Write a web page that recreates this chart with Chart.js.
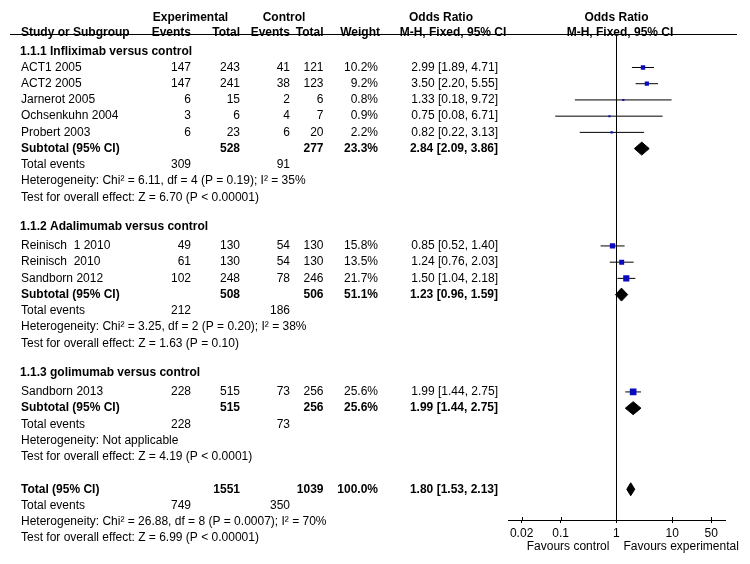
<!DOCTYPE html>
<html>
<head>
<meta charset="utf-8">
<script src="https://cdn.jsdelivr.net/npm/chart.js@4.4.1/dist/chart.umd.min.js"></script>
<style>
html,body{margin:0;padding:0;background:#fff}
canvas{display:block}
</style>
</head>
<body>
<canvas id="forest" width="750" height="564"></canvas>
<script>
// study level data
const studies     = ['ACT1 2005','ACT2 2005','Jarnerot 2005','Ochsenkuhn 2004','Probert 2003','Reinisch  1 2010','Reinisch  2010','Sandborn 2012','Sandborn 2013'];
const studyGroup  = [0,0,0,0,0,1,1,1,2];
const expEvents   = [147,147,6,3,6,49,61,102,228];
const expTotal    = [243,241,15,6,23,130,130,248,515];
const ctrlEvents  = [41,38,2,4,6,54,54,78,73];
const ctrlTotal   = [121,123,6,7,20,130,130,246,256];
const weights     = [10.2,9.2,0.8,0.9,2.2,15.8,13.5,21.7,25.6];
const orEst       = [2.99,3.50,1.33,0.75,0.82,0.85,1.24,1.50,1.99];
const orLo        = [1.89,2.20,0.18,0.08,0.22,0.52,0.76,1.04,1.44];
const orHi        = [4.71,5.55,9.72,6.71,3.13,1.40,2.03,2.18,2.75];

// subgroups
const groupNames    = ['1.1.1 Infliximab versus control','1.1.2 Adalimumab versus control','1.1.3 golimumab versus control'];
const subExpTotal   = [528,508,515];
const subCtrlTotal  = [277,506,256];
const subWeight     = ['23.3%','51.1%','25.6%'];
const subExpEvents  = [309,212,228];
const subCtrlEvents = [91,186,73];
const subEst        = [2.84,1.23,1.99];
const subLo         = [2.09,0.96,1.44];
const subHi         = [3.86,1.59,2.75];
const subHet  = ['Heterogeneity: Chi² = 6.11, df = 4 (P = 0.19); I² = 35%','Heterogeneity: Chi² = 3.25, df = 2 (P = 0.20); I² = 38%','Heterogeneity: Not applicable'];
const subTest = ['Test for overall effect: Z = 6.70 (P < 0.00001)','Test for overall effect: Z = 1.63 (P = 0.10)','Test for overall effect: Z = 4.19 (P < 0.0001)'];

// overall
const totExpTotal = 1551, totCtrlTotal = 1039, totWeight = '100.0%';
const totExpEvents = 749, totCtrlEvents = 350;
const totEst = 1.80, totLo = 1.53, totHi = 2.13;
const totHet  = 'Heterogeneity: Chi² = 26.88, df = 8 (P = 0.0007); I² = 70%';
const totTest = 'Test for overall effect: Z = 6.99 (P < 0.00001)';

// axis
const xTicks = [0.02,0.1,1,10,50];

const fmt = v => v.toFixed(2);
const ciText = (e,l,h) => `${fmt(e)} [${fmt(l)}, ${fmt(h)}]`;

// row layout: one row index per line of the table
const rows = [];
let r = 0;
const studyRow = [], subRow = [];
groupNames.forEach((g,gi)=>{
  rows.push({r:r - (gi?0.2:0), kind:'group', gi}); r++;
  studies.forEach((s,i)=>{ if(studyGroup[i]===gi){ studyRow[i]=r; rows.push({r:r++, kind:'study', i}); } });
  subRow[gi]=r; rows.push({r:r++, kind:'sub', gi});
  rows.push({r:r++, kind:'events', e:subExpEvents[gi], c:subCtrlEvents[gi]});
  rows.push({r:r++, kind:'note', t:subHet[gi]});
  rows.push({r:r++, kind:'note', t:subTest[gi]});
  r++;
});
const totRow = r;
rows.push({r:r++, kind:'total'});
rows.push({r:r++, kind:'events', e:totExpEvents, c:totCtrlEvents});
rows.push({r:r++, kind:'note', t:totHet});
rows.push({r:r++, kind:'note', t:totTest});

const ROW_PX = 16.37, FIRST_PX = 47, AXIS_PX = 520;
const yMin = -FIRST_PX/ROW_PX, yMax = (AXIS_PX-FIRST_PX)/ROW_PX;
const DIA = 0.4; // diamond half height in rows
const BLUE = '#0a0ac0';

const datasets = [];
// CI whiskers
studies.forEach((s,i)=>{
  datasets.push({type:'scatter', showLine:true, data:[{x:orLo[i],y:studyRow[i]},{x:orHi[i],y:studyRow[i]}],
    borderColor:'#000', borderWidth:1, pointRadius:0, order:2});
});
// squares
datasets.push({type:'scatter', data:studies.map((s,i)=>({x:orEst[i],y:studyRow[i]})),
  pointStyle:'rect', backgroundColor:BLUE, borderWidth:0,
  pointRadius:ctx=>Math.max(1.5, 1.2*Math.sqrt(weights[ctx.dataIndex]))/Math.SQRT2+0.4, order:1});
// diamonds
const dia = (e,l,h,row)=>({type:'scatter', showLine:true, tension:0, fill:'shape',
  data:[{x:l,y:row},{x:e,y:row-DIA},{x:h,y:row},{x:e,y:row+DIA},{x:l,y:row}],
  borderColor:'#000', backgroundColor:'#000', borderWidth:1, pointRadius:0, order:0});
groupNames.forEach((g,gi)=>datasets.push(dia(subEst[gi],subLo[gi],subHi[gi],subRow[gi])));
datasets.push(dia(totEst,totLo,totHi,totRow));

const FONT = '"Liberation Sans", Arial, Helvetica, sans-serif';
const COL = {label:21, expEv:191, expTot:240, ctrlEv:290, ctrlTot:323.5, weight:378, or:498};

const tablePlugin = {
  id:'table',
  beforeDatasetsDraw(chart){
    const {ctx, scales:{x,y}, chartArea} = chart;
    ctx.save();
    ctx.strokeStyle = '#000'; ctx.lineWidth = 1;
    const x1 = Math.round(x.getPixelForValue(1))+0.5;
    ctx.beginPath(); ctx.moveTo(x1, 35); ctx.lineTo(x1, chartArea.bottom); ctx.stroke();
    ctx.restore();
  },
  afterDraw(chart){
    const {ctx, scales:{x,y}} = chart;
    const t = (s,px,py,align,bold)=>{
      ctx.font = (bold?'bold ':'')+'12px '+FONT;
      ctx.textAlign = align; ctx.fillText(String(s),px,py);
    };
    ctx.save();
    ctx.fillStyle = '#000'; ctx.textBaseline = 'middle';
    // header
    const h0 = y.getPixelForValue(-2.1), h1 = y.getPixelForValue(-1.12);
    t('Experimental',190.5,h0,'center',true);
    t('Control',284,h0,'center',true);
    t('Odds Ratio',441,h0,'center',true);
    t('Odds Ratio',x.getPixelForValue(1),h0,'center',true);
    t('Study or Subgroup',COL.label,h1,'left',true);
    t('Events',COL.expEv,h1,'right',true);
    t('Total',COL.expTot,h1,'right',true);
    t('Events',COL.ctrlEv,h1,'right',true);
    t('Total',COL.ctrlTot,h1,'right',true);
    t('Weight',380,h1,'right',true);
    t('M-H, Fixed, 95% CI',453,h1,'center',true);
    t('M-H, Fixed, 95% CI',620,h1,'center',true);
    ctx.strokeStyle = '#000'; ctx.lineWidth = 1;
    ctx.beginPath(); ctx.moveTo(10,34.5); ctx.lineTo(737,34.5); ctx.stroke();

    rows.forEach(row=>{
      const py = y.getPixelForValue(row.r);
      if(row.kind==='group') t(groupNames[row.gi],COL.label-1,py,'left',true);
      else if(row.kind==='study'){
        const i=row.i;
        t(studies[i],COL.label,py,'left');
        t(expEvents[i],COL.expEv,py,'right'); t(expTotal[i],COL.expTot,py,'right');
        t(ctrlEvents[i],COL.ctrlEv,py,'right'); t(ctrlTotal[i],COL.ctrlTot,py,'right');
        t(weights[i].toFixed(1)+'%',COL.weight,py,'right');
        t(ciText(orEst[i],orLo[i],orHi[i]),COL.or,py,'right');
      } else if(row.kind==='sub'){
        const g=row.gi;
        t('Subtotal (95% CI)',COL.label,py,'left',true);
        t(subExpTotal[g],COL.expTot,py,'right',true); t(subCtrlTotal[g],COL.ctrlTot,py,'right',true);
        t(subWeight[g],COL.weight,py,'right',true);
        t(ciText(subEst[g],subLo[g],subHi[g]),COL.or,py,'right',true);
      } else if(row.kind==='total'){
        t('Total (95% CI)',COL.label,py,'left',true);
        t(totExpTotal,COL.expTot,py,'right',true); t(totCtrlTotal,COL.ctrlTot,py,'right',true);
        t(totWeight,COL.weight,py,'right',true);
        t(ciText(totEst,totLo,totHi),COL.or,py,'right',true);
      } else if(row.kind==='events'){
        t('Total events',COL.label,py,'left');
        t(row.e,COL.expEv,py,'right'); t(row.c,COL.ctrlEv,py,'right');
      } else t(row.t,COL.label,py,'left');
    });

    // upper half of axis ticks
    ctx.beginPath();
    x.ticks.forEach(tk=>{ const px=Math.round(x.getPixelForValue(tk.value))+0.5; ctx.moveTo(px,517); ctx.lineTo(px,520); });
    ctx.stroke();
    const fx = x.getPixelForValue(1);
    t('Favours control',fx-7,547,'right');
    t('Favours experimental',fx+7,547,'left');
    ctx.restore();
  }
};

new Chart(document.getElementById('forest'),{
  type:'scatter',
  data:{datasets},
  options:{
    responsive:false, animation:false, devicePixelRatio:1,
    layout:{padding:{left:508,right:25,top:0,bottom:0}},
    plugins:{legend:{display:false},tooltip:{enabled:false}},
    scales:{
      x:{type:'logarithmic', min:0.0114, max:88,
        afterBuildTicks:s=>{ s.ticks = xTicks.map(v=>({value:v})); },
        afterFit:s=>{ s.height = 44; },
        grid:{drawOnChartArea:false, drawTicks:true, tickLength:3, color:'#000'},
        border:{display:true, color:'#000', width:1},
        ticks:{color:'#000', padding:3, font:{family:FONT, size:12}, maxRotation:0, autoSkip:false,
          callback:v=>String(v)}
      },
      y:{type:'linear', display:false, reverse:true, min:yMin, max:yMax}
    }
  },
  plugins:[tablePlugin]
});
</script>
</body>
</html>
